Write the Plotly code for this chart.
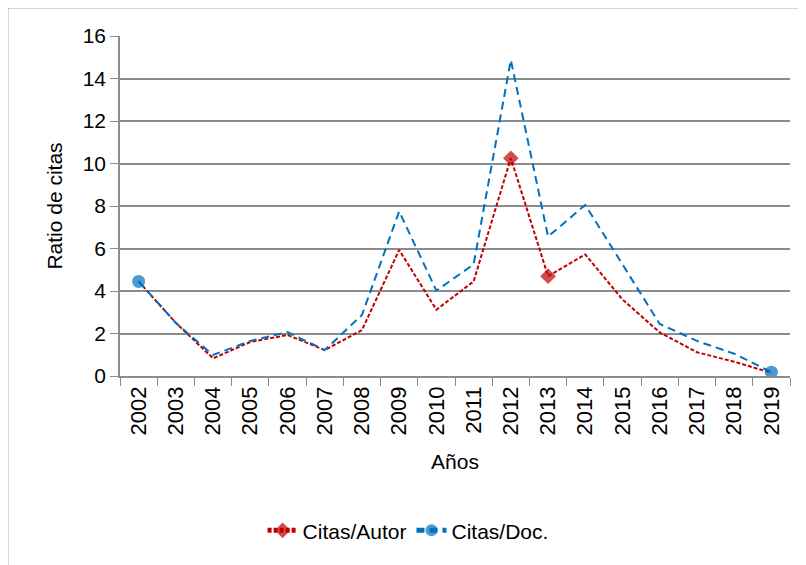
import plotly.graph_objects as go

years = [str(y) for y in range(2002, 2020)]
citas_autor = [4.45, 2.5, 0.83, 1.6, 1.93, 1.22, 2.16, 5.93, 3.12, 4.45,
               10.25, 4.7, 5.72, 3.6, 2.05, 1.12, 0.67, 0.15]
citas_doc = [4.45, 2.5, 0.99, 1.65, 2.07, 1.22, 2.87, 7.75, 4.02, 5.25,
             14.87, 6.56, 8.05, 5.25, 2.45, 1.65, 1.05, 0.18]
# years where the original chart left a visible marker
marked_autor = ["2012", "2013"]
marked_doc = ["2002", "2019"]

red = "#c00000"
blue = "#0070c0"
grey = "#8c8c8c"

fig = go.Figure()

fig.add_trace(go.Scatter(
    x=years, y=citas_autor, mode="lines+markers", name="Citas/Autor",
    line=dict(color=red, width=2, dash="4px,2px"),
    marker=dict(symbol="diamond", color=red, line=dict(width=0),
                size=[12 if y in marked_autor else 0 for y in years]),
))
fig.add_trace(go.Scatter(
    x=years, y=citas_doc, mode="lines+markers", name="Citas/Doc.",
    line=dict(color=blue, width=2, dash="8px,5px"),
    marker=dict(symbol="circle", color=blue, line=dict(width=0),
                size=[13 if y in marked_doc else 0 for y in years]),
))

# the page body adds 8px, so margins are 8px smaller than the reference positions
fig.update_layout(
    width=806, height=565,
    margin=dict(l=112, r=24, t=28, b=197, autoexpand=False),
    paper_bgcolor="white", plot_bgcolor="white",
    font=dict(family="Liberation Sans, Arial", size=20, color="black"),
    legend=dict(orientation="h", x=0.43, xanchor="center", y=-0.455, yanchor="middle",
                font=dict(size=21), itemsizing="constant", itemwidth=30),
    shapes=[
        dict(type="line", xref="paper", yref="paper", x0=-0.1672, x1=1.1, y0=1.0824, y1=1.0824,
             line=dict(color="#a6a6a6", width=1)),
        dict(type="line", xref="paper", yref="paper", x0=-0.1672, x1=-0.1672, y0=1.0824, y1=-0.6,
             line=dict(color="#a6a6a6", width=1)),
    ],
)

fig.update_xaxes(
    type="category", range=[-0.5, 17.5], tickangle=-90, tickson="boundaries",
    ticks="outside", ticklen=8, tickcolor=grey,
    showline=True, linecolor=grey, linewidth=1.5,
    showgrid=False, tickfont=dict(size=22),
    title=dict(text="Años", font=dict(size=21), standoff=20),
)
fig.update_yaxes(
    range=[0, 16], dtick=2, ticks="outside", ticklen=8, tickcolor=grey,
    showline=True, linecolor=grey, linewidth=1.5,
    showgrid=True, gridcolor=grey, gridwidth=1.5, zeroline=False,
    tickfont=dict(size=21),
    title=dict(text="Ratio de citas", font=dict(size=21), standoff=14),
)

fig.write_html("out.html")
